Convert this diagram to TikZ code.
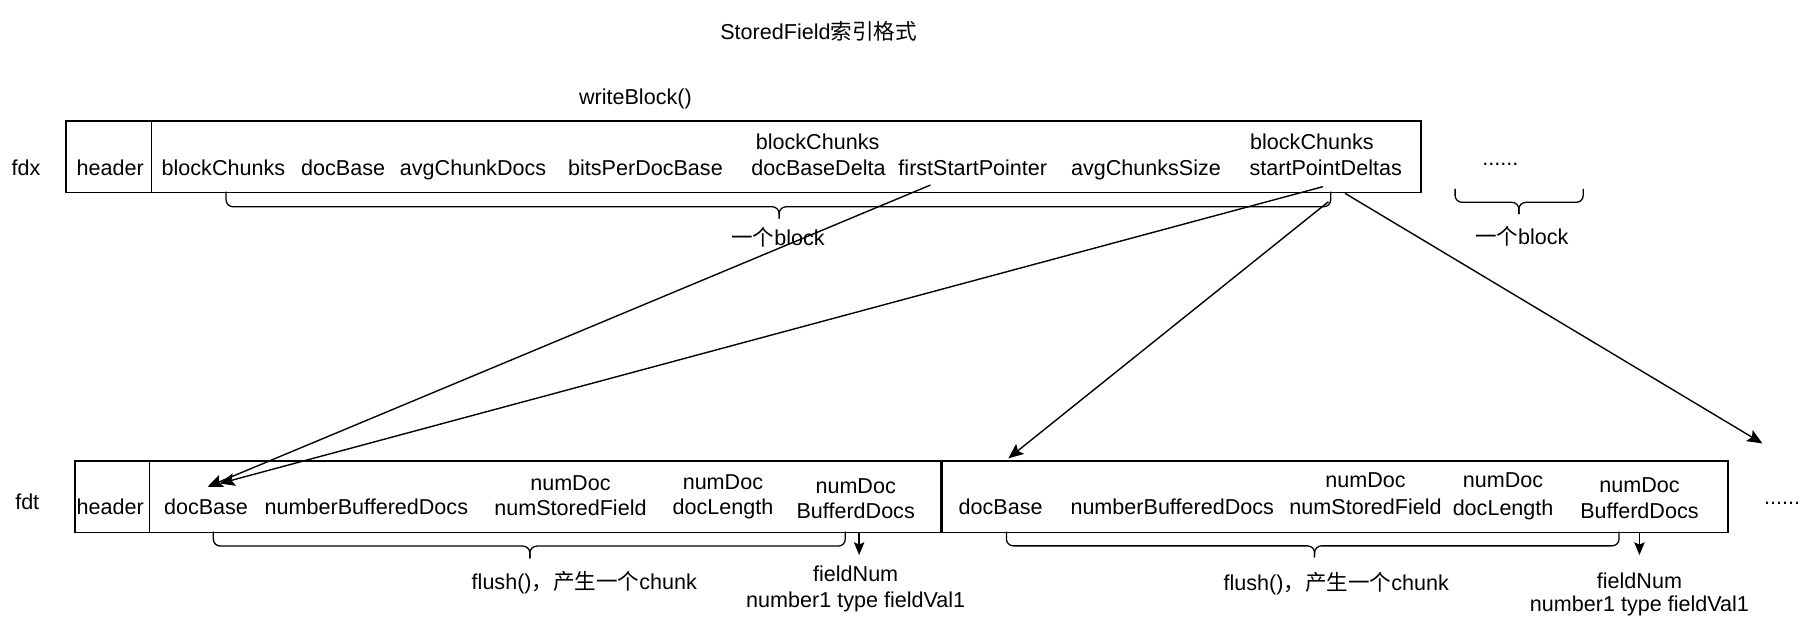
\documentclass[tikz,border=0pt]{standalone}
\usepackage{fontspec}
\setmainfont{Liberation Sans}
\newfontfamily\cjk{Noto Sans CJK SC}
\usetikzlibrary{arrows.meta}
\tikzset{
  lbl/.style={font=\fontsize{18.6}{22.5}\selectfont, inner sep=0pt, anchor=base},
  box/.style={draw, line width=1.4pt, inner sep=0pt, anchor=north west},
  divider/.style={line width=1pt},
  brace/.style={line width=1.1pt, rounded corners=6pt},
  arr/.style={line width=1.2pt, -{Stealth[length=13pt,width=11pt,inset=2.5pt]}},
  sarr/.style={line width=1.2pt, -{Stealth[length=11pt,width=9pt,inset=2pt]}}
}
\begin{document}
\begin{tikzpicture}[x=1pt,y=-1pt]
\fill[white] (0,0) rectangle (1568,542);
\useasboundingbox (0,0) rectangle (1568,542);

% title
\node[lbl] (title) at (706,33.8) {StoredField{\cjk 索引格式}};
\node[lbl] (wb) at (548,90) {writeBlock()};

% ---------- fdx ----------
\node[lbl] (fdxlbl) at (22.5,151.7) {fdx};
\node[box, minimum width=1168.8pt, minimum height=61.8pt] (fdx) at (56,103.5) {};
\draw[divider] (131,103.5) -- (131,165.3);
\node[lbl] (xh) at (95,151.7) {header};
\node[lbl] (xbc) at (192.7,151.7) {blockChunks};
\node[lbl] (xdb) at (296,151.7) {docBase};
\node[lbl] (xacd) at (408,151.7) {avgChunkDocs};
\node[lbl] (xbpd) at (556.7,151.7) {bitsPerDocBase};
\node[lbl] (xbcd1) at (705.2,128.7) {blockChunks};
\node[lbl] (xbcd2) at (705.9,151.7) {docBaseDelta};
\node[lbl] (xfsp) at (839,151.7) {firstStartPointer};
\node[lbl] (xacs) at (988.4,151.7) {avgChunksSize};
\node[lbl] (xspd1) at (1131.5,128.7) {blockChunks};
\node[lbl] (xspd2) at (1143.4,151.7) {startPointDeltas};
\node[lbl] (xdots) at (1294,142.5) {......};

% fdx braces
\draw[brace] (195,165.3) -- (195,178.3) -- (672,178.3) -- (672,188.5);
\draw[brace] (1147.7,165.3) -- (1147.7,178.3) -- (672,178.3) -- (672,188.5);
\node[lbl] (blk1) at (671,211.5) {{\cjk 一个}block};
\draw[brace] (1255,163) -- (1255,174.5) -- (1310,174.5) -- (1310,184.6);
\draw[brace] (1365.5,163) -- (1365.5,174.5) -- (1310,174.5) -- (1310,184.6);
\node[lbl] (blk2) at (1312.5,210.5) {{\cjk 一个}block};

% ---------- fdt ----------
\node[lbl] (fdtlbl) at (23.5,439.2) {fdt};
\node[box, minimum width=746.7pt, minimum height=61.7pt] (fdt1) at (63.8,396.8) {};
\node[box, minimum width=678pt, minimum height=61.7pt] (fdt2) at (811.5,396.8) {};
\draw[divider] (128.6,396.8) -- (128.6,458.5);

\node[lbl] (th) at (95,444) {header};
\node[lbl] (tdb1) at (177.7,444) {docBase};
\node[lbl] (tnbd1) at (316,444) {numberBufferedDocs};
\node[lbl] (tnsf1a) at (492,423.4) {numDoc};
\node[lbl] (tnsf1b) at (492,444.9) {numStoredField};
\node[lbl] (tdl1a) at (623.5,422) {numDoc};
\node[lbl] (tdl1b) at (623.5,443.5) {docLength};
\node[lbl] (tbd1a) at (738,425.5) {numDoc};
\node[lbl] (tbd1b) at (738,447) {BufferdDocs};

\node[lbl] (tdb2) at (863,444) {docBase};
\node[lbl] (tnbd2) at (1011,444) {numberBufferedDocs};
\node[lbl] (tnsf2a) at (1177.8,420.5) {numDoc};
\node[lbl] (tnsf2b) at (1177.8,444) {numStoredField};
\node[lbl] (tdl2a) at (1296.4,420.5) {numDoc};
\node[lbl] (tdl2b) at (1296.4,444.5) {docLength};
\node[lbl] (tbd2a) at (1414,425) {numDoc};
\node[lbl] (tbd2b) at (1414,447.3) {BufferdDocs};
\node[lbl] (tdots) at (1537,435.5) {......};

% fdt braces
\draw[brace] (184,458.5) -- (184,471) -- (457,471) -- (457,481.6);
\draw[brace] (729,458.5) -- (729,471) -- (457,471) -- (457,481.6);
\node[lbl] (fl1) at (504,508.2) {flush(){\cjk ，产生一个}chunk};
\draw[brace] (868,458.5) -- (868,470.8) -- (1133.8,470.8) -- (1133.8,480.7);
\draw[brace] (1396.4,458.5) -- (1396.4,470.8) -- (1133.8,470.8) -- (1133.8,480.7);
\node[lbl] (fl2) at (1152.5,509.5) {flush(){\cjk ，产生一个}chunk};

\node[lbl] (fn1a) at (738,501.5) {fieldNum};
\node[lbl] (fn1b) at (738,524) {number1 type fieldVal1};
\node[lbl] (fn2a) at (1414,507.5) {fieldNum};
\node[lbl] (fn2b) at (1414,527) {number1 type fieldVal1};

% ---------- connectors ----------
\coordinate (fspOut) at (802.5,159.6);
\coordinate (spdOut) at (1141,161);
\coordinate (spdBrace) at (1145.7,174);
\coordinate (spdRight) at (1160,166.7);
\coordinate (db1TipA) at (179,419.8);
\coordinate (db1TipB) at (189.5,417);
\coordinate (db2Tip) at (869.7,395.3);
\coordinate (nextTip) at (1520,382.4);
\coordinate (bd1Out) at (741,458.5);
\coordinate (bd1In) at (741,478.7);
\coordinate (bd2Out) at (1414,458.5);
\coordinate (bd2In) at (1414,478.7);

\draw[arr] (fspOut) -- (db1TipA);
\draw[arr] (spdOut) -- (db1TipB);
\draw[arr] (spdBrace) -- (db2Tip);
\draw[arr] (spdRight) -- (nextTip);
\draw[sarr] (bd1Out) -- (bd1In);
\draw[sarr] (bd2Out) -- (bd2In);
\end{tikzpicture}
\end{document}
